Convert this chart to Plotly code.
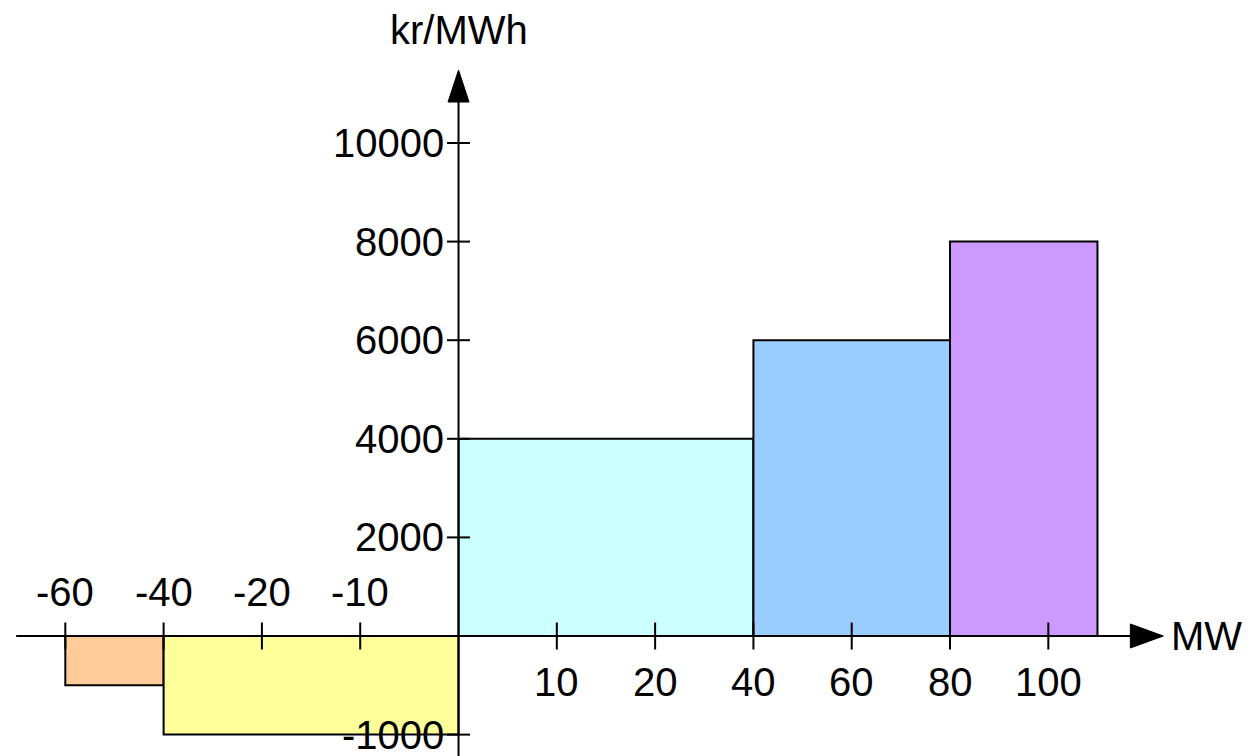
import numpy as np
import plotly.graph_objects as go

# ---------------- data ----------------
mw_start = [-60, -40, 0, 40, 80]
mw_end = [-40, 0, 40, 80, 110]
price = [-500, -1000, 4000, 6000, 8000]
bar_colors = ["#FFCC99", "#FFFF99", "#CCFFFF", "#99CCFF", "#CC99FF"]

x_ticks = [-60, -40, -20, -10, 0, 10, 20, 40, 60, 80, 100]
x_tick_labels = ["-60", "-40", "-20", "-10", "0", "10", "20", "40", "60", "80", "100"]
y_ticks = [-1000, 2000, 4000, 6000, 8000, 10000]
y_tick_labels = ["-1000", "2000", "4000", "6000", "8000", "10000"]

x_title = "MW"
y_title = "kr/MWh"

# ---------------- axis scales (schematic, evenly spaced ticks) ----------------
_t = np.array(x_ticks, dtype=float)
_idx = np.arange(len(_t)) - x_ticks.index(0)


def xpos(mw):
    if mw > _t[-1]:
        return _idx[-1] + (mw - _t[-1]) / (_t[-1] - _t[-2])
    if mw < _t[0]:
        return _idx[0] - (_t[0] - mw) / (_t[1] - _t[0])
    return float(np.interp(mw, _t, _idx))


NEG_STRETCH = 2.0  # negative prices drawn at double scale


def ypos(v):
    return v if v >= 0 else v * NEG_STRETCH


# ---------------- layout constants ----------------
X_RANGE = [-4.583, 8.133]
Y_RANGE = [-2596, 12738]
X_AXIS_LEFT = -4.5
X_AXIS_TIP = 7.17
Y_AXIS_TIP = 11480
FONT = "Liberation Sans, Arial, sans-serif"
FS = 40

fig = go.Figure()

x0 = [xpos(a) for a in mw_start]
x1 = [xpos(b) for b in mw_end]
fig.add_trace(go.Bar(
    x=[(a + b) / 2 for a, b in zip(x0, x1)],
    width=[b - a for a, b in zip(x0, x1)],
    y=[ypos(p) for p in price],
    base=0,
    marker=dict(color=bar_colors, line=dict(color="black", width=2)),
    hoverinfo="skip",
))

shapes = []
# axes lines
shapes.append(dict(type="line", xref="x", yref="y", x0=X_AXIS_LEFT, x1=X_AXIS_TIP - 0.3,
                   y0=0, y1=0, line=dict(color="black", width=2)))
shapes.append(dict(type="line", xref="x", yref="y", x0=0, x1=0,
                   y0=Y_RANGE[0], y1=Y_AXIS_TIP - 500, line=dict(color="black", width=2)))
# arrow heads
shapes.append(dict(type="path", xref="x", yref="y", xsizemode="pixel", ysizemode="pixel",
                   xanchor=X_AXIS_TIP, yanchor=0, path="M0,0 L-33,12 L-33,-12 Z",
                   fillcolor="black", line=dict(color="black", width=1)))
shapes.append(dict(type="path", xref="x", yref="y", xsizemode="pixel", ysizemode="pixel",
                   xanchor=0, yanchor=Y_AXIS_TIP, path="M0,0 L-10.5,-32 L10.5,-32 Z",
                   fillcolor="black", line=dict(color="black", width=1)))
# ticks
for v in x_ticks:
    if v == 0:
        continue
    shapes.append(dict(type="line", xref="x", yref="y", ysizemode="pixel", yanchor=0,
                       x0=xpos(v), x1=xpos(v), y0=-13.5, y1=13.5,
                       line=dict(color="black", width=2)))
for v in y_ticks:
    shapes.append(dict(type="line", xref="x", yref="y", xsizemode="pixel", xanchor=0,
                       x0=-11.5, x1=11.5, y0=ypos(v), y1=ypos(v),
                       line=dict(color="black", width=2)))

annotations = []
for v, lab in zip(x_ticks, x_tick_labels):
    if v == 0:
        continue
    annotations.append(dict(x=xpos(v), y=0, xref="x", yref="y", text=lab, showarrow=False,
                            xanchor="center", yanchor="middle",
                            yshift=44 if v < 0 else -46,
                            font=dict(family=FONT, size=FS, color="black")))
for v, lab in zip(y_ticks, y_tick_labels):
    annotations.append(dict(x=0, y=ypos(v), xref="x", yref="y", text=lab, showarrow=False,
                            xanchor="right", yanchor="middle", xshift=-13,
                            font=dict(family=FONT, size=FS, color="black")))
annotations.append(dict(x=X_AXIS_TIP, y=0, xref="x", yref="y", text=x_title, showarrow=False,
                        xanchor="left", yanchor="middle", xshift=6,
                        font=dict(family=FONT, size=FS, color="black")))
annotations.append(dict(x=0, y=1 - 22 / 756, xref="x", yref="paper", text=y_title,
                        showarrow=False, xanchor="center", yanchor="middle",
                        font=dict(family=FONT, size=FS, color="black")))

fig.update_layout(
    width=1250, height=756,
    margin=dict(l=0, r=0, t=0, b=0),
    paper_bgcolor="white", plot_bgcolor="white",
    showlegend=False,
    xaxis=dict(visible=False, range=X_RANGE, fixedrange=True),
    yaxis=dict(visible=False, range=Y_RANGE, fixedrange=True),
    shapes=shapes,
    annotations=annotations,
)

fig.write_html("out.html")
